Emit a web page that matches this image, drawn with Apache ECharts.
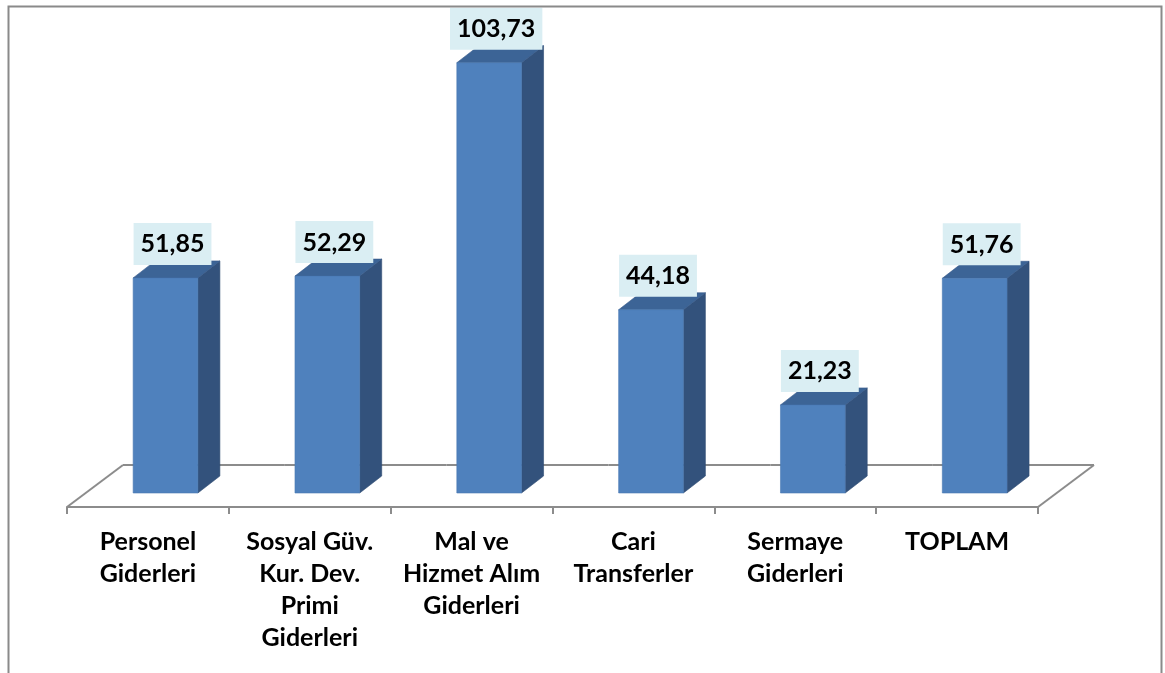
<!DOCTYPE html>
<html>
<head>
<meta charset="utf-8">
<script src="https://cdn.jsdelivr.net/npm/echarts@6/dist/echarts.min.js"></script>
<style>
html,body{margin:0;padding:0;background:#fff;}
#chart{width:1165px;height:673px;}
</style>
</head>
<body>
<div id="chart"></div>
<script>
const categories = [
  'Personel\nGiderleri',
  'Sosyal Güv.\nKur. Dev.\nPrimi\nGiderleri',
  'Mal ve\nHizmet Alım\nGiderleri',
  'Cari\nTransferler',
  'Sermaye\nGiderleri',
  'TOPLAM'
];
const values = [51.85, 52.29, 103.73, 44.18, 21.23, 51.76];

const FONT = 'Lato, "Open Sans", sans-serif';
const GRID_COLOR = '#8c8c8c';

// depth geometry (pixels)
const FLOOR_DX = 56, FLOOR_DY = -42;
const BAR_OX = 17.6, BAR_OY = -14;
const BAR_DX = 22, BAR_DY = -17;

function fmt(v){ return v.toFixed(2).replace('.', ','); }

function renderFloor(params, api) {
  const idx = api.value(0);
  const base = api.coord([idx, 0]);
  const band = api.size([1, 0])[0];
  const left = base[0] - band / 2, right = base[0] + band / 2;
  const y0 = base[1];
  const children = [{
    type: 'line',
    shape: {x1: left + FLOOR_DX, y1: y0 + FLOOR_DY, x2: right + FLOOR_DX, y2: y0 + FLOOR_DY},
    style: {stroke: GRID_COLOR, lineWidth: 2}
  }];
  if (idx === 0) {
    children.push({type: 'line',
      shape: {x1: left, y1: y0, x2: left + FLOOR_DX, y2: y0 + FLOOR_DY},
      style: {stroke: GRID_COLOR, lineWidth: 2}});
  }
  if (idx === categories.length - 1) {
    children.push({type: 'line',
      shape: {x1: right, y1: y0, x2: right + FLOOR_DX, y2: y0 + FLOOR_DY},
      style: {stroke: GRID_COLOR, lineWidth: 2}});
  }
  return {type: 'group', children};
}

function renderBar(params, api) {
  const idx = api.value(0);
  const v = api.value(1);
  const base = api.coord([idx, 0]);
  const topPt = api.coord([idx, v]);
  const band = api.size([1, 0])[0];
  const w = band * 0.40;
  const x0 = base[0] - w / 2 + BAR_OX, x1 = x0 + w;
  const yb = base[1] + BAR_OY, yt = topPt[1] + BAR_OY;
  return {
    type: 'group',
    children: [
      {type: 'polygon', shape: {points: [[x1, yb], [x1 + BAR_DX, yb + BAR_DY], [x1 + BAR_DX, yt + BAR_DY], [x1, yt]]},
        style: {fill: '#33527c', stroke: '#2f4b72', lineWidth: 0.6}},
      {type: 'polygon', shape: {points: [[x0, yt], [x1, yt], [x1 + BAR_DX, yt + BAR_DY], [x0 + BAR_DX, yt + BAR_DY]]},
        style: {fill: '#3c6496', stroke: '#35598a', lineWidth: 0.6}},
      {type: 'rect', shape: {x: x0, y: yt, width: w, height: yb - yt},
        style: {fill: '#4f81bd', stroke: '#4a79b2', lineWidth: 0.6}},
      {type: 'text', x: (x0 + x1) / 2 + 7, y: yt - 13,
        style: {text: fmt(v), fill: '#000', font: 'bold 25px ' + FONT,
          align: 'center', verticalAlign: 'bottom',
          backgroundColor: '#daeef3', padding: [7, 7, 6, 7], lineHeight: 29}}
    ]
  };
}

const chart = echarts.init(document.getElementById('chart'), null, {renderer: 'canvas'});
chart.setOption({
  animation: false,
  backgroundColor: '#ffffff',
  grid: {left: 67, top: 3, width: 971, height: 504},
  xAxis: {
    type: 'category',
    data: categories,
    boundaryGap: true,
    axisLine: {show: true, lineStyle: {color: GRID_COLOR, width: 2}},
    axisTick: {show: true, length: 7, interval: 0, lineStyle: {color: GRID_COLOR, width: 2}},
    axisLabel: {interval: 0, margin: 19, color: '#000', fontFamily: FONT, fontWeight: 'bold',
      fontSize: 25, lineHeight: 32, align: 'center'},
    splitLine: {show: false}
  },
  yAxis: {type: 'value', min: 0, max: 121.5, show: false, splitLine: {show: false}},
  graphic: [{
    type: 'rect', left: 6, top: 4, z: 100,
    shape: {width: 1153, height: 720},
    style: {fill: 'none', stroke: '#8a8a8a', lineWidth: 2}
  }],
  series: [
    {type: 'custom', name: 'floor', renderItem: renderFloor, z: 1,
      data: categories.map((c, i) => [i]), encode: {x: 0}, silent: true},
    {type: 'custom', name: 'bars', renderItem: renderBar, z: 2,
      data: values.map((v, i) => [i, v]), encode: {x: 0, y: 1}}
  ]
});
</script>
</body>
</html>
